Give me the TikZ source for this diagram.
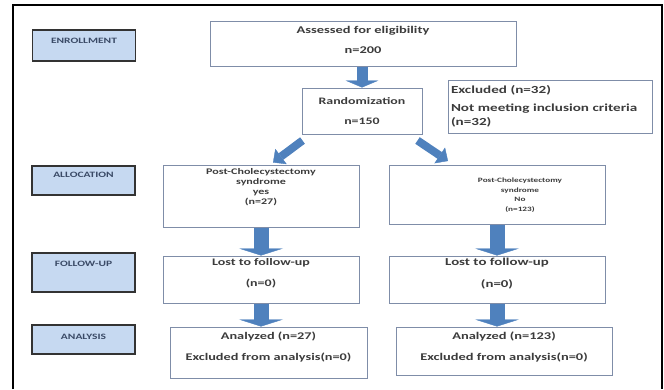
\documentclass[tikz,border=0pt]{standalone}
\usepackage{fontspec}
\setmainfont{Carlito}
\newfontfamily\boxfont[FakeStretch=1.4]{Carlito}
\usetikzlibrary{arrows.meta,positioning}

\definecolor{flowblue}{HTML}{4F81BD}
\definecolor{stagefill}{HTML}{C6D9F1}
\definecolor{boxline}{HTML}{7F8DA8}
\definecolor{textgray}{HTML}{3C3C3C}
\definecolor{stagetext}{HTML}{3A4A66}

\tikzset{
  boxtext/.style 2 args={font=\boxfont\bfseries\fontsize{#1}{#2}\selectfont},
  stage/.style={draw=black!80, line width=1.6pt, fill=stagefill, minimum width=103pt,
    align=center, text=stagetext, boxtext={8.2}{9}},
  flowbox/.style={draw=boxline, line width=1pt, fill=white, align=center, inner sep=1pt, text=textgray},
  blockdown/.style 2 args={draw=flowblue, line width=#1, -{Triangle[length=7pt,width=#2,line width=0.4pt]}},
  blockdiag/.style={draw=flowblue, line width=8pt, -{Triangle[length=10pt,width=19pt,line width=0.4pt]}}
}

\begin{document}
\begin{tikzpicture}[x=1pt,y=-1pt]
	\useasboundingbox (0,0) rectangle (664,389);
	\draw[line width=2pt] (13,389) -- (13,5) -- (662,5) -- (662,389);

	% stages on the left
	\node[stage, minimum height=31pt, text depth=10pt] (enroll) at (84,45.5) {ENROLLMENT};
	\node[stage, minimum height=29pt, text depth=11pt] (alloc) at (83.5,180.5) {ALLOCATION};
	\node[stage, minimum height=39pt, text depth=17pt] (follow) at (83.5,272.5) {FOLLOW-UP};
	\node[stage, minimum height=29pt, text depth=5pt] (analysis) at (83.5,339.5) {ANALYSIS};

	% flow boxes
	\node[flowbox, boxtext={10.3}{20}, minimum width=306pt, minimum height=45pt, text depth=7pt] (assess) at (363,43.5) {Assessed for eligibility\\n=200};
	\node[flowbox, boxtext={9.9}{20}, minimum width=120pt, minimum height=46pt] (rand) at (362,111) {Randomization\\n=150};
	\node[flowbox, boxtext={10.8}{16}, minimum width=204pt, minimum height=53pt, text width=198pt, align=left] (excl) at (550,106.5) {Excluded (n=32)\\[2pt]Not meeting inclusion criteria\\[-2pt](n=32)};

	\node[flowbox, boxtext={8.6}{10}, minimum width=196pt, minimum height=62pt, text depth=18.5pt] (yes) at (261,196) {Post-Cholecystectomy\\syndrome\\yes\\(n=27)};
	\node[flowbox, boxtext={6.6}{9.7}, minimum width=216pt, minimum height=59pt, align=none] (no) at (497,195)
		{\hspace*{46pt}\begin{tabular}{@{}c@{}}Post-Cholecystectomy\\syndrome\\No\\(n=123)\end{tabular}};

	\node[flowbox, boxtext={10}{21}, minimum width=196pt, minimum height=47pt, text depth=14pt] (lostL) at (261,279.5) {Lost to follow-up\\(n=0)};
	\node[flowbox, boxtext={10.6}{22}, minimum width=216pt, minimum height=47pt, text depth=14pt] (lostR) at (497,279.5) {Lost to follow-up\\(n=0)};

	\node[flowbox, boxtext={10.2}{21}, minimum width=197pt, minimum height=51pt, text depth=12.5pt] (anaL) at (268.5,352.5) {Analyzed (n=27)\\Excluded from analysis(n=0)};
	\node[flowbox, boxtext={10.3}{21}, minimum width=216pt, minimum height=48pt, text depth=9.5pt] (anaR) at (504,351) {Analyzed (n=123)\\Excluded from analysis(n=0)};

	% arrows
	\draw[blockdown={11pt}{33pt}] (rand.north |- assess.south) -- (rand.north);
	\draw[blockdiag] ([xshift=1pt,yshift=-6pt]rand.south west) -- ([xshift=12pt,yshift=2pt]yes.north);
	\draw[blockdiag] ([xshift=-5pt,yshift=-6pt]rand.south east) -- ([xshift=-49pt,yshift=4pt]no.north);
	\draw[blockdown={15pt}{44pt}] (yes.south) -- (lostL.north);
	\draw[blockdown={15pt}{44pt}] (no.south) -- (lostR.north);
	\draw[blockdown={15pt}{44pt}] (lostL.south) -- (lostL.south |- anaL.north);
	\draw[blockdown={15pt}{44pt}] (lostR.south) -- (lostR.south |- anaR.north);

\end{tikzpicture}
\end{document}
